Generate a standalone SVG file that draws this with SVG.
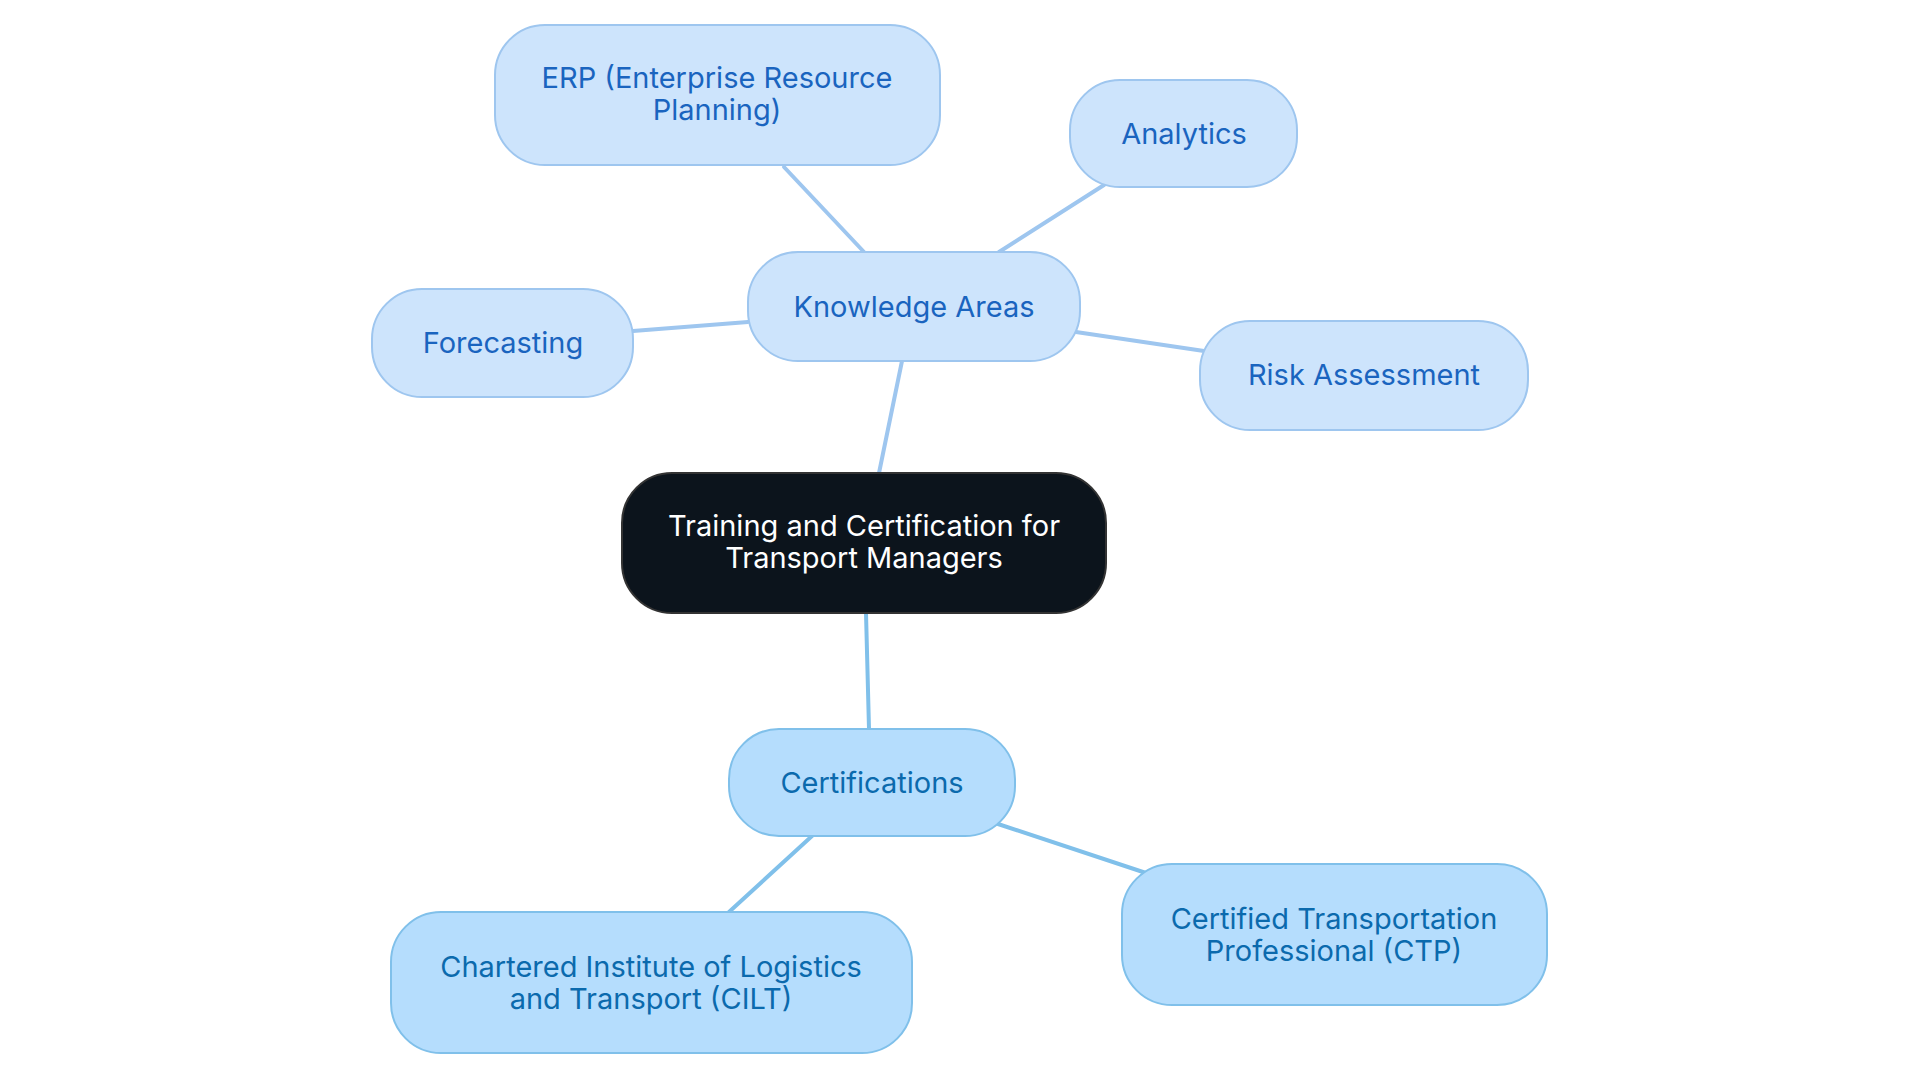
<svg xmlns="http://www.w3.org/2000/svg" width="1920" height="1083" viewBox="0 0 1920 1083">
<style>
.k rect{fill:#cde4fc;stroke:#9ec6ef;stroke-width:2}
.k text{fill:#1a64bf}
.c rect{fill:#b5ddfd;stroke:#80c0ea;stroke-width:2}
.c text{fill:#0b6aad}
text{font-family:Inter,"Noto Sans",sans-serif;font-size:29px;text-anchor:middle;dominant-baseline:central}
#edges line{stroke-width:4;stroke-linecap:round}
</style>
<rect width="1920" height="1083" fill="#fff"/>
<g id="edges">
<g stroke="#9ec6ef">
<line x1="864" y1="252" x2="784" y2="167"/>
<line x1="999" y1="252" x2="1104" y2="185"/>
<line x1="748" y1="322" x2="633" y2="331"/>
<line x1="1076" y1="332" x2="1204" y2="351"/>
<line x1="902" y1="361" x2="879" y2="473"/>
</g>
<g stroke="#80c0ea">
<line x1="866" y1="613" x2="869" y2="729"/>
<line x1="812" y1="836" x2="729" y2="912"/>
<line x1="998" y1="824" x2="1146" y2="873"/>
</g>
</g>
<g id="center"><rect x="622" y="473" width="484" height="140" rx="50" fill="#0c141c" stroke="#333" stroke-width="2"/><text x="864" y="525" fill="#fff">Training and Certification for</text><text x="864" y="557" fill="#fff">Transport Managers</text></g>
<g id="knowledge" class="k"><rect x="748" y="252" width="332" height="109" rx="50"/><text x="914" y="306">Knowledge Areas</text></g>
<g id="erp" class="k"><rect x="495" y="25" width="445" height="140" rx="50"/><text x="717" y="77">ERP (Enterprise Resource</text><text x="717" y="109">Planning)</text></g>
<g id="analytics" class="k"><rect x="1070" y="80" width="227" height="107" rx="50"/><text x="1184" y="133">Analytics</text></g>
<g id="forecasting" class="k"><rect x="372" y="289" width="261" height="108" rx="50"/><text x="503" y="342">Forecasting</text></g>
<g id="risk" class="k"><rect x="1200" y="321" width="328" height="109" rx="50"/><text x="1364" y="374">Risk Assessment</text></g>
<g id="certifications" class="c"><rect x="729" y="729" width="286" height="107" rx="50"/><text x="872" y="782">Certifications</text></g>
<g id="cilt" class="c"><rect x="391" y="912" width="521" height="141" rx="50"/><text x="651" y="966">Chartered Institute of Logistics</text><text x="651" y="998">and Transport (CILT)</text></g>
<g id="ctp" class="c"><rect x="1122" y="864" width="425" height="141" rx="50"/><text x="1334" y="918">Certified Transportation</text><text x="1334" y="950">Professional (CTP)</text></g>
</svg>
